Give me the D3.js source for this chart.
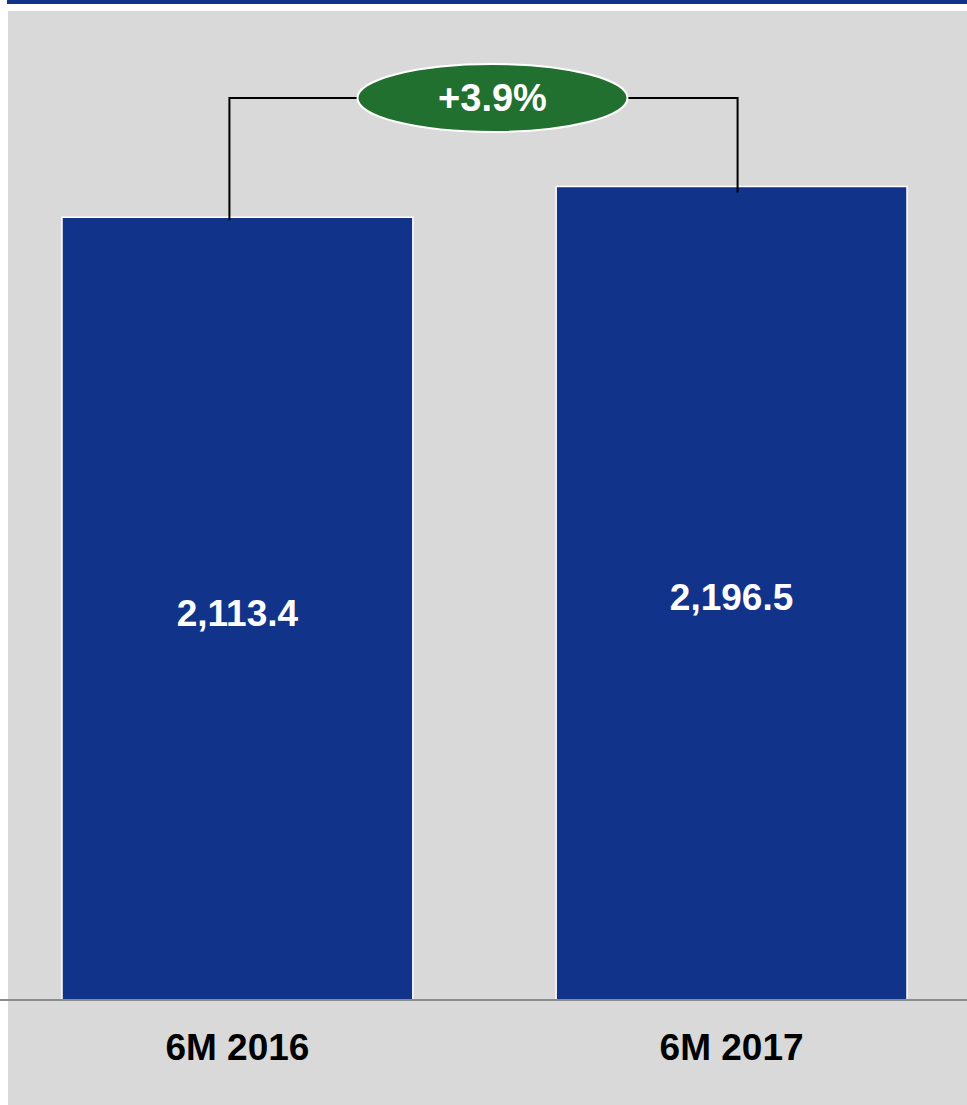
<!DOCTYPE html>
<html>
<head>
<meta charset="utf-8">
<script src="https://cdn.jsdelivr.net/npm/d3@7"></script>
<style>
  html, body { margin: 0; padding: 0; background: #ffffff; }
  svg { display: block; }
  text { font-family: "Liberation Sans", Arial, sans-serif; font-weight: bold; }
</style>
</head>
<body>
<svg id="chart" width="967" height="1105"></svg>
<script>
// Half-year totals
const categories = ["6M 2016", "6M 2017"];
const values = [2113.4, 2196.5];
const valueLabels = ["2,113.4", "2,196.5"];
const changeLabel = "+3.9%";

const W = 967, H = 1105;
const svg = d3.select("#chart");

// Frame: thin navy rule on top, grey panel below
svg.append("rect").attr("x", 7).attr("y", 0).attr("width", W - 7).attr("height", 4).attr("fill", "#12338a");
svg.append("rect").attr("x", 8).attr("y", 11).attr("width", W - 8).attr("height", H - 11).attr("fill", "#d9d9d9");

const x = d3.scaleBand()
  .domain(categories)
  .range([62, 907])
  .paddingInner(0.29)
  .paddingOuter(0);

const y = d3.scaleLinear()
  .domain([0, 2700])
  .range([1000, 0]);

// Bars
svg.append("g").selectAll("rect")
  .data(categories)
  .join("rect")
  .attr("x", d => x(d))
  .attr("y", (d, i) => y(values[i]))
  .attr("width", x.bandwidth())
  .attr("height", (d, i) => y(0) - y(values[i]))
  .attr("fill", "#12338a")
  .attr("stroke", "#ffffff")
  .attr("stroke-width", 1.5);

// Value labels inside bars
svg.append("g").selectAll("text")
  .data(categories)
  .join("text")
  .attr("x", d => x(d) + x.bandwidth() / 2)
  .attr("y", (d, i) => (y(values[i]) + y(0)) / 2 + 17)
  .attr("text-anchor", "middle")
  .attr("fill", "#ffffff")
  .attr("font-size", 37)
  .text((d, i) => valueLabels[i]);

// Baseline
svg.append("line")
  .attr("x1", 0).attr("x2", W)
  .attr("y1", y(0)).attr("y2", y(0))
  .attr("stroke", "#8c8c8c").attr("stroke-width", 2);

// Category axis labels
svg.append("g").selectAll("text")
  .data(categories)
  .join("text")
  .attr("x", d => x(d) + x.bandwidth() / 2)
  .attr("y", 1060)
  .attr("text-anchor", "middle")
  .attr("fill", "#000000")
  .attr("font-size", 37)
  .text(d => d);

// Growth bracket connecting the two bars
const bracketY = 98;
const xl = x(categories[0]) + x.bandwidth() / 2 - 8;
const xr = x(categories[1]) + x.bandwidth() / 2 + 6;
svg.append("path")
  .attr("d", `M${xl},${y(values[0]) + 3}V${bracketY}H${xr}V${y(values[1]) + 6}`)
  .attr("fill", "none")
  .attr("stroke", "#000000")
  .attr("stroke-width", 2);

const cx = (xl + xr) / 2 + 9;
svg.append("ellipse")
  .attr("cx", cx).attr("cy", bracketY)
  .attr("rx", 135).attr("ry", 34)
  .attr("fill", "#217030")
  .attr("stroke", "#ffffff")
  .attr("stroke-width", 2);

svg.append("text")
  .attr("x", cx).attr("y", bracketY + 13)
  .attr("text-anchor", "middle")
  .attr("fill", "#ffffff")
  .attr("font-size", 38)
  .text(changeLabel);
</script>
</body>
</html>
